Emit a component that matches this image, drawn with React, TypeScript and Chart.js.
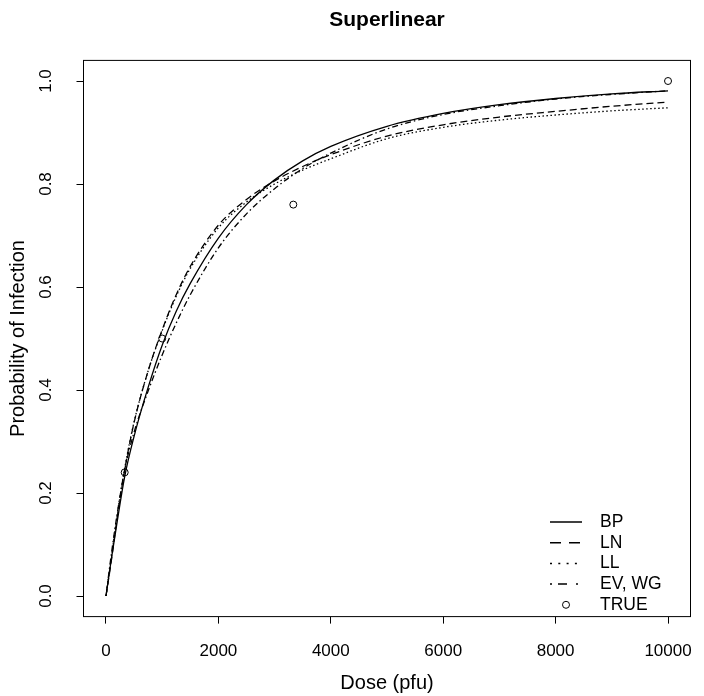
import React, { useEffect, useRef } from "react";
import { Chart, registerables } from "chart.js";

Chart.register(...registerables);

const doses = [0, 100, 200, 333, 500, 750, 1000, 1250, 1500, 2000, 2500, 3000, 3500, 4000, 5000, 6000, 7000, 8000, 9000, 10000];
const bpValues = [0, 0.075, 0.145, 0.232, 0.31, 0.405, 0.487, 0.553, 0.607, 0.695, 0.76, 0.808, 0.845, 0.873, 0.912, 0.937, 0.954, 0.966, 0.975, 0.981];
const lnValues = [0, 0.072, 0.153, 0.245, 0.337, 0.437, 0.517, 0.585, 0.64, 0.72, 0.77, 0.806, 0.834, 0.857, 0.893, 0.915, 0.93, 0.941, 0.951, 0.959];
const llValues = [0, 0.078, 0.157, 0.248, 0.338, 0.437, 0.515, 0.582, 0.636, 0.715, 0.765, 0.8, 0.827, 0.849, 0.888, 0.91, 0.924, 0.934, 0.942, 0.948];
const evwgValues = [0, 0.085, 0.16, 0.245, 0.318, 0.398, 0.468, 0.53, 0.585, 0.676, 0.742, 0.791, 0.83, 0.86, 0.907, 0.935, 0.952, 0.965, 0.974, 0.981];
const trueDoses = [333, 1000, 3333, 10000];
const trueValues = [0.24, 0.5, 0.76, 1.0];
const xTicks = [0, 2000, 4000, 6000, 8000, 10000];
const yTicks = [0, 0.2, 0.4, 0.6, 0.8, 1.0];
const legendLabels = ["BP", "LN", "LL", "EV, WG", "TRUE"];

const FONT = "'Liberation Sans', Arial, Helvetica, sans-serif";
const dashes: number[][] = [[], [7, 4], [1.5, 2.5], [1.5, 3, 6, 3]];
const legendDashes: number[][] = [[], [11, 8], [2, 6.3], [2, 6, 9, 9]];

const boxAndLegend = {
  id: "boxAndLegend",
  afterDraw(chart: any) {
    const { ctx, chartArea: a } = chart;
    ctx.save();
    ctx.strokeStyle = "#000";
    ctx.lineWidth = 1;
    ctx.setLineDash([]);
    ctx.strokeRect(a.left, a.top, a.right - a.left, a.bottom - a.top);

    // legend
    const x0 = 550, x1 = 582, tx = 600, y0 = 522, dy = 20.7;
    ctx.font = `17.5px ${FONT}`;
    ctx.fillStyle = "#000";
    ctx.textBaseline = "middle";
    ctx.textAlign = "left";
    legendLabels.forEach((lab, i) => {
      const y = y0 + i * dy;
      if (i < 4) {
        ctx.beginPath();
        ctx.lineWidth = 1.5;
        ctx.setLineDash(legendDashes[i]);
        ctx.moveTo(x0, y);
        ctx.lineTo(x1, y);
        ctx.stroke();
      } else {
        ctx.beginPath();
        ctx.lineWidth = 1;
        ctx.setLineDash([]);
        ctx.arc((x0 + x1) / 2, y, 3.5, 0, Math.PI * 2);
        ctx.stroke();
      }
      ctx.fillText(lab, tx, y);
    });
    ctx.restore();
  },
};

export default function App() {
  const ref = useRef<HTMLCanvasElement | null>(null);
  useEffect(() => {
    if (!ref.current) return;
    const mk = (vals: number[]) => doses.map((d, i) => ({ x: d, y: vals[i] }));
    const lineDs = (label: string, vals: number[], dash: number[]) => ({
      label,
      data: mk(vals),
      showLine: true,
      borderColor: "#000",
      backgroundColor: "#000",
      borderWidth: 1.3,
      borderDash: dash,
      pointRadius: 0,
      cubicInterpolationMode: "monotone" as const,
      fill: false,
    });
    const chart = new Chart(ref.current, {
      type: "scatter",
      data: {
        datasets: [
          lineDs("BP", bpValues, dashes[0]),
          lineDs("LN", lnValues, dashes[1]),
          lineDs("LL", llValues, dashes[2]),
          lineDs("EV, WG", evwgValues, dashes[3]),
          {
            label: "TRUE",
            data: trueDoses.map((d, i) => ({ x: d, y: trueValues[i] })),
            showLine: false,
            pointStyle: "circle",
            pointRadius: 3.5,
            borderColor: "#000",
            backgroundColor: "rgba(0,0,0,0)",
            borderWidth: 1,
          } as any,
        ],
      },
      options: {
        animation: false,
        responsive: false,
        devicePixelRatio: 1,
        layout: { padding: { left: 0, right: 13.5, top: 0, bottom: 0 } },
        plugins: {
          legend: { display: false },
          tooltip: { enabled: false },
          title: {
            display: true,
            text: "Superlinear",
            fullSize: false,
            color: "#000",
            font: { family: FONT, size: 21, weight: "bold", lineHeight: 1.2 },
            padding: { top: 7.5, bottom: 27.7 },
          },
        },
        scales: {
          x: {
            type: "linear",
            min: -400,
            max: 10400,
            afterBuildTicks: (s: any) => {
              s.ticks = xTicks.map((v) => ({ value: v }));
            },
            afterFit: (s: any) => {
              s.height = 79.4;
              s.paddingLeft = 0;
              s.paddingRight = 0;
            },
            grid: { display: true, drawOnChartArea: false, drawTicks: true, tickLength: 7, color: "#000", lineWidth: 1 },
            border: { display: false },
            ticks: {
              color: "#000",
              font: { family: FONT, size: 17 },
              padding: 18,
              maxRotation: 0,
              minRotation: 0,
              callback: (v: any) => String(v),
            },
            title: {
              display: true,
              text: "Dose (pfu)",
              color: "#000",
              font: { family: FONT, size: 20, lineHeight: 1.2 },
              padding: { top: 0, bottom: 1 },
            },
          },
          y: {
            type: "linear",
            min: -0.04,
            max: 1.04,
            afterBuildTicks: (s: any) => {
              s.ticks = yTicks.map((v) => ({ value: v }));
            },
            afterFit: (s: any) => {
              s.width = 83.5;
              s.paddingTop = 0;
              s.paddingBottom = 0;
            },
            grid: { display: true, drawOnChartArea: false, drawTicks: true, tickLength: 7, color: "#000", lineWidth: 1 },
            border: { display: false },
            ticks: {
              color: "#000",
              font: { family: FONT, size: 17 },
              padding: 18.7,
              minRotation: 90,
              maxRotation: 90,
              crossAlign: "center",
              callback: (v: any) => Number(v).toFixed(1),
            },
            title: {
              display: true,
              text: "Probability of Infection",
              color: "#000",
              font: { family: FONT, size: 20, lineHeight: 1.2 },
              padding: { top: 6, bottom: 0 },
            },
          },
        },
      },
      plugins: [boxAndLegend],
    });
    return () => chart.destroy();
  }, []);
  return (
    <div style={{ position: "fixed", left: 0, top: 0, width: 704, height: 696, background: "#fff" }}>
      <canvas ref={ref} width={704} height={696} />
    </div>
  );
}
